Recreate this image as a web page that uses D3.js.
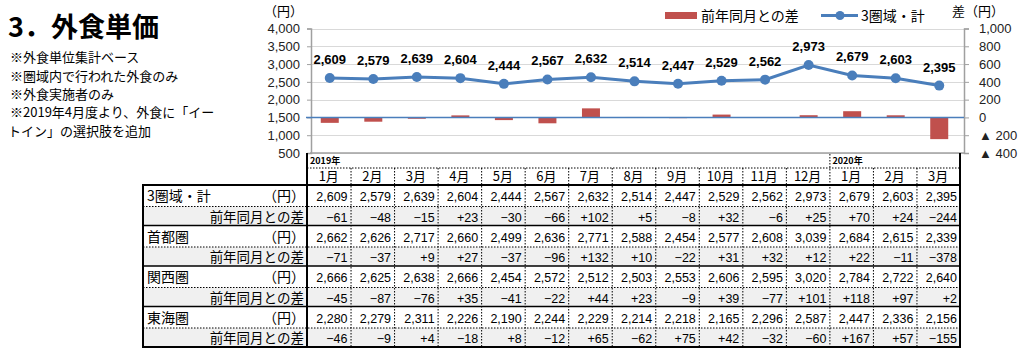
<!DOCTYPE html>
<html lang="ja">
<head>
<meta charset="utf-8">
<script src="https://cdn.jsdelivr.net/npm/d3@7"></script>
<style>
  html, body { margin: 0; padding: 0; background: #fff; }
  svg { display: block; font-family: "Liberation Sans", Arial, "Noto Sans CJK JP", sans-serif; }
  .jp { font-family: "Noto Sans CJK JP", "Liberation Sans", sans-serif; }
</style>
</head>
<body>
<svg id="chart" width="1024" height="350"></svg>
<script>
// Monthly columns (Jan 2019 – Mar 2020)
const months = ["1月","2月","3月","4月","5月","6月","7月","8月","9月","10月","11月","12月","1月","2月","3月"];
const yearMarks = [{ index: 0, label: "2019年" }, { index: 12, label: "2020年" }];

// Average spend per eating-out occasion (円) and year-on-year change
const total        = [2609,2579,2639,2604,2444,2567,2632,2514,2447,2529,2562,2973,2679,2603,2395];
const totalDiff    = [-61,-48,-15,23,-30,-66,102,5,-8,32,-6,25,70,24,-244];
const shutoken     = [2662,2626,2717,2660,2499,2636,2771,2588,2454,2577,2608,3039,2684,2615,2339];
const shutokenDiff = [-71,-37,9,27,-37,-96,132,10,-22,31,32,12,22,-11,-378];
const kansai       = [2666,2625,2638,2666,2454,2572,2512,2503,2553,2606,2595,3020,2784,2722,2640];
const kansaiDiff   = [-45,-87,-76,35,-41,-22,44,23,-9,39,-77,101,118,97,2];
const tokai        = [2280,2279,2311,2226,2190,2244,2229,2214,2218,2165,2296,2587,2447,2336,2156];
const tokaiDiff    = [-46,-9,4,-18,8,-12,65,-62,75,42,-32,-60,167,57,-155];

// Axis ticks
const leftTicks  = [500,1000,1500,2000,2500,3000,3500,4000];
const rightTicks = [-400,-200,0,200,400,600,800,1000];

const notes = [
  "※外食単位集計ベース",
  "※圏域内で行われた外食のみ",
  "※外食実施者のみ",
  "※2019年4月度より、外食に「イー",
  "トイン」の選択肢を追加"
];

const BLUE = "#4A7EBB";
const RED = "#C0504D";

const svg = d3.select("#chart");

// ---- Title and notes ----
svg.append("text").attr("class", "jp")
  .attr("x", 8).attr("y", 37)
  .attr("font-size", 27).attr("font-weight", "bold").attr("fill", "#000")
  .text("3．外食単価");

svg.append("g").selectAll("text").data(notes).join("text")
  .attr("class", "jp")
  .attr("x", (d, i) => i === 4 ? 8 : 10)
  .attr("y", (d, i) => [62, 80.5, 98.5, 116.5, 136][i])
  .attr("font-size", 13).attr("fill", "#000")
  .text(d => d);

// ---- Chart scales ----
const plotLeft = 311, plotRight = 964, plotTop = 28.5, plotBottom = 153;
const x = d3.scaleBand().domain(d3.range(months.length)).range([308, 961]).paddingInner(0).paddingOuter(0);
const yL = d3.scaleLinear().domain([500, 4000]).range([plotBottom, plotTop]);
const yR = d3.scaleLinear().domain([-400, 1000]).range([plotBottom, plotTop]);

// gridlines
svg.append("g").selectAll("line").data(leftTicks).join("line")
  .attr("x1", plotLeft).attr("x2", plotRight)
  .attr("y1", d => Math.round(yL(d)) + 0.5).attr("y2", d => Math.round(yL(d)) + 0.5)
  .attr("stroke", "#d9d9d9").attr("stroke-width", 1);

// left axis
const gL = svg.append("g").attr("transform", `translate(${plotLeft},0)`)
  .call(d3.axisLeft(yL).tickValues(leftTicks).tickSize(4).tickPadding(7).tickFormat(d3.format(",")));
gL.select(".domain").attr("stroke", "#a0a0a0").attr("stroke-width", 1.5);
gL.selectAll(".tick line").attr("stroke", "#a0a0a0");
gL.selectAll("text").attr("font-size", 13).attr("fill", "#222")
  .attr("font-family", "'Liberation Sans', Arial, sans-serif");

// right axis
const gR = svg.append("g").attr("transform", `translate(${plotRight},0)`)
  .call(d3.axisRight(yR).tickValues(rightTicks).tickSize(5).tickPadding(10)
    .tickFormat(d => d < 0 ? "▲ " + d3.format(",")(-d) : d3.format(",")(d)));
gR.select(".domain").attr("stroke", "#a0a0a0").attr("stroke-width", 1.5);
gR.selectAll(".tick line").attr("stroke", "#a0a0a0");
gR.selectAll("text").attr("font-size", 13).attr("fill", "#222")
  .attr("font-family", "'Liberation Sans', 'DejaVu Sans', sans-serif");

// bottom frame line of the plot
svg.append("line").attr("x1", plotLeft - 1).attr("x2", plotRight)
  .attr("y1", plotBottom).attr("y2", plotBottom)
  .attr("stroke", "#a0a0a0").attr("stroke-width", 1.5);

// unit labels
svg.append("text").attr("class", "jp").attr("x", 303).attr("y", 16)
  .attr("text-anchor", "end").attr("font-size", 13).text("（円）");
svg.append("text").attr("class", "jp").attr("x", 952).attr("y", 16)
  .attr("font-size", 13).text("差（円）");

// year-on-year bars
const barW = 18;
svg.append("g").selectAll("rect").data(totalDiff).join("rect")
  .attr("x", (d, i) => x(i) + x.bandwidth() / 2 - barW / 2)
  .attr("width", barW)
  .attr("y", d => Math.min(yR(d), yR(0)))
  .attr("height", d => Math.abs(yR(d) - yR(0)))
  .attr("fill", RED);

// zero line of the right axis
svg.append("line").attr("x1", 306).attr("x2", plotRight)
  .attr("y1", yR(0)).attr("y2", yR(0))
  .attr("stroke", BLUE).attr("stroke-width", 1.5);

// total line
const line = d3.line().x((d, i) => x(i) + x.bandwidth() / 2).y(d => yL(d));
svg.append("path").datum(total).attr("d", line)
  .attr("fill", "none").attr("stroke", BLUE).attr("stroke-width", 3);
svg.append("g").selectAll("circle").data(total).join("circle")
  .attr("cx", (d, i) => x(i) + x.bandwidth() / 2).attr("cy", d => yL(d))
  .attr("r", 5).attr("fill", BLUE);
svg.append("g").selectAll("text").data(total).join("text")
  .attr("x", (d, i) => x(i) + x.bandwidth() / 2).attr("y", d => yL(d) - 14)
  .attr("text-anchor", "middle").attr("font-size", 13).attr("font-weight", "bold")
  .attr("fill", "#000").text(d => d3.format(",")(d));

// legend
const lg = svg.append("g");
lg.append("rect").attr("x", 665).attr("y", 12).attr("width", 32).attr("height", 7).attr("fill", RED);
lg.append("text").attr("class", "jp").attr("x", 701).attr("y", 21).attr("font-size", 14).text("前年同月との差");
lg.append("line").attr("x1", 821).attr("x2", 858).attr("y1", 15.5).attr("y2", 15.5)
  .attr("stroke", BLUE).attr("stroke-width", 3);
lg.append("circle").attr("cx", 840).attr("cy", 15.5).attr("r", 4.5).attr("fill", BLUE);
lg.append("text").attr("class", "jp").attr("x", 861).attr("y", 21).attr("font-size", 14).text("3圏域・計");

// ---- Data table ----
const tableLeft = 143, colLeft = x.range()[0] - 1, tableRight = x.range()[1] - 1;
const headTop = 153, yearRowBottom = 168, headBottom = 185;
const rows = [
  { label: "3圏域・計", unit: "（円）", values: total, diff: false },
  { label: "前年同月との差", values: totalDiff, diff: true },
  { label: "首都圏", unit: "（円）", values: shutoken, diff: false },
  { label: "前年同月との差", values: shutokenDiff, diff: true },
  { label: "関西圏", unit: "（円）", values: kansai, diff: false },
  { label: "前年同月との差", values: kansaiDiff, diff: true },
  { label: "東海圏", unit: "（円）", values: tokai, diff: false },
  { label: "前年同月との差", values: tokaiDiff, diff: true }
];
const rowH = r => r.diff ? 19 : 21.5;
let acc = headBottom;
rows.forEach(r => { r.y0 = acc; acc += rowH(r); r.y1 = acc; });
const tableBottom = acc;

const colX = i => x(i) - 1;
const tg = svg.append("g");

// shaded difference rows
tg.selectAll("rect.shade").data(rows.filter(r => r.diff)).join("rect")
  .attr("x", tableLeft).attr("y", r => r.y0).attr("width", tableRight - tableLeft).attr("height", r => r.y1 - r.y0)
  .attr("fill", "#f0f0f0");

// year labels
tg.selectAll("text.year").data(yearMarks).join("text")
  .attr("x", d => colX(d.index) + 3).attr("y", 164)
  .attr("font-size", 9).attr("font-weight", "bold").attr("class", "jp").text(d => d.label);

// month headers
tg.selectAll("text.month").data(months).join("text").attr("class", "jp")
  .attr("x", (d, i) => x(i) + x.bandwidth() / 2 - 1).attr("y", 181)
  .attr("text-anchor", "middle").attr("font-size", 13).text(d => d);

// body values
const fmtVal = d3.format(",");
const fmtDiff = d => d > 0 ? "+" + d : (d < 0 ? "−" + (-d) : "0");
rows.forEach(r => {
  const ty = (r.y0 + r.y1) / 2 + 5.5;
  tg.append("g").selectAll("text").data(r.values).join("text")
    .attr("x", (d, i) => colX(i) + x.bandwidth() - 3)
    .attr("y", ty)
    .attr("text-anchor", "end").attr("font-size", 12.5).attr("fill", "#000")
    .text(d => r.diff ? fmtDiff(d) : fmtVal(d));
  if (r.diff) {
    tg.append("text").attr("class", "jp").attr("x", 304).attr("y", ty)
      .attr("text-anchor", "end").attr("font-size", 13.5).text(r.label);
  } else {
    tg.append("text").attr("class", "jp").attr("x", 147).attr("y", ty)
      .attr("font-size", 14).text(r.label);
    tg.append("text").attr("class", "jp").attr("x", 305).attr("y", ty)
      .attr("text-anchor", "end").attr("font-size", 14).text(r.unit);
  }
});

// dotted grid of the table
const dot = sel => sel.attr("stroke", "#000").attr("stroke-width", 1).attr("stroke-dasharray", "1.5,1.5");
// horizontal dotted line between year row and month row
dot(tg.append("line").attr("x1", colLeft).attr("x2", tableRight).attr("y1", yearRowBottom).attr("y2", yearRowBottom));
// horizontal dotted lines between value and difference rows
rows.filter(r => !r.diff).forEach(r => {
  dot(tg.append("line").attr("x1", tableLeft).attr("x2", tableRight).attr("y1", r.y1).attr("y2", r.y1));
});
// vertical dotted column separators
d3.range(1, months.length).forEach(i => {
  dot(tg.append("line").attr("x1", colX(i) + 0.5).attr("x2", colX(i) + 0.5)
    .attr("y1", i === 12 ? headTop + 1 : yearRowBottom).attr("y2", tableBottom));
});

// solid separators between regions
rows.filter(r => r.diff).slice(0, 3).forEach(r => {
  tg.append("line").attr("x1", tableLeft).attr("x2", tableRight).attr("y1", r.y1).attr("y2", r.y1)
    .attr("stroke", "#000").attr("stroke-width", 1.5);
});
// outer borders
const solid = sel => sel.attr("stroke", "#000").attr("stroke-width", 2);
solid(tg.append("line").attr("x1", tableLeft - 1).attr("x2", tableRight + 1).attr("y1", headBottom).attr("y2", headBottom));
solid(tg.append("line").attr("x1", tableLeft - 1).attr("x2", tableRight + 1).attr("y1", tableBottom).attr("y2", tableBottom));
solid(tg.append("line").attr("x1", tableLeft).attr("x2", tableLeft).attr("y1", headBottom).attr("y2", tableBottom));
solid(tg.append("line").attr("x1", colLeft).attr("x2", colLeft).attr("y1", headTop).attr("y2", tableBottom));
solid(tg.append("line").attr("x1", tableRight).attr("x2", tableRight).attr("y1", headTop).attr("y2", tableBottom));
</script>
</body>
</html>
